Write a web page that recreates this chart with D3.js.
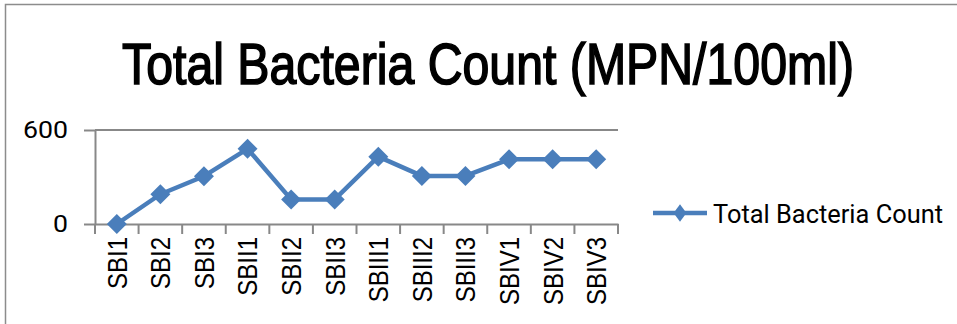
<!DOCTYPE html>
<html>
<head>
<meta charset="utf-8">
<script src="https://cdn.jsdelivr.net/npm/d3@7/dist/d3.min.js"></script>
<style>
  html, body { margin: 0; padding: 0; background: #fff; }
  svg { display: block; }
</style>
</head>
<body>
<script>
// Sampling stations along the x axis
const categories = ["SBI1", "SBI2", "SBI3", "SBII1", "SBII2", "SBII3",
                    "SBIII1", "SBIII2", "SBIII3", "SBIV1", "SBIV2", "SBIV3"];
// Total bacteria count per station (MPN/100ml)
const totalBacteria = [0, 190, 305, 480, 157, 157, 430, 307, 307, 413, 413, 413];
// Y axis tick labels
const yTicks = [0, 600];
const seriesName = "Total Bacteria Count";
const chartTitle = "Total Bacteria Count (MPN/100ml)";

const W = 957, H = 324;
const plot = { left: 95, right: 618, top: 130, bottom: 224 };
const blue = "#4A7EBB";
const axisGrey = "#888888";

const svg = d3.select("body").append("svg")
  .attr("width", W).attr("height", H);

// chart frame
svg.append("rect")
  .attr("x", 5.5).attr("y", 4.5)
  .attr("width", 1200).attr("height", 600)
  .attr("fill", "#fff")
  .attr("stroke", "#8c8c8c").attr("stroke-width", 1.5);

// title, horizontally condensed so it spans 732px
const titleG = svg.append("g");
const title = titleG.append("text")
  .attr("x", 0).attr("y", 0)
  .attr("text-anchor", "middle")
  .attr("font-family", "'Liberation Sans Narrow', 'Liberation Sans', Arial, sans-serif")
  .attr("font-size", 57)
  .attr("fill", "#000")
  .attr("stroke", "#000")
  .attr("stroke-width", 1.6)
  .text(chartTitle);
const titleScale = 732 / title.node().getComputedTextLength();
titleG.attr("transform", `translate(488,84) scale(${titleScale},1)`);

const x = d3.scaleBand().domain(categories).range([plot.left, plot.right]);
const y = d3.scaleLinear().domain([0, 600]).range([plot.bottom, plot.top]);

// horizontal gridline at the top tick
svg.append("g")
  .selectAll("line")
  .data(yTicks.filter(d => d > 0))
  .join("line")
  .attr("x1", plot.left).attr("x2", plot.right)
  .attr("y1", d => y(d)).attr("y2", d => y(d))
  .attr("stroke", axisGrey).attr("stroke-width", 2);

// y axis
const yAxis = svg.append("g")
  .attr("transform", `translate(${plot.left},0)`)
  .call(d3.axisLeft(y).tickValues(yTicks).tickSize(11).tickSizeOuter(0).tickPadding(16));
yAxis.select(".domain").attr("stroke", axisGrey).attr("stroke-width", 2);
yAxis.selectAll(".tick line").attr("stroke", axisGrey).attr("stroke-width", 2);
yAxis.selectAll(".tick text")
  .attr("font-family", "Roboto, 'Liberation Sans', sans-serif")
  .attr("font-size", 24)
  .attr("fill", "#000")
  .attr("textLength", d => String(d).length * 15)
  .attr("lengthAdjust", "spacingAndGlyphs");

// x axis line and category boundary ticks
const xAxis = svg.append("g")
  .attr("transform", `translate(0,${plot.bottom})`)
  .call(d3.axisBottom(x).tickSize(0).tickFormat(""));
xAxis.select(".domain").attr("stroke", axisGrey).attr("stroke-width", 2);
xAxis.selectAll(".tick").remove();

const boundaries = categories.map(c => x(c)).concat([x.range()[1]]);
svg.append("g")
  .selectAll("line")
  .data(boundaries)
  .join("line")
  .attr("x1", d => d).attr("x2", d => d)
  .attr("y1", plot.bottom).attr("y2", plot.bottom + 10)
  .attr("stroke", axisGrey).attr("stroke-width", 2);

// rotated category labels
svg.append("g")
  .selectAll("text")
  .data(categories)
  .join("text")
  .attr("transform", d => `translate(${x(d) + x.bandwidth() / 2},237) rotate(-90) scale(1,1.15)`)
  .attr("text-anchor", "end")
  .attr("dy", "0.36em")
  .attr("font-family", "'Liberation Sans', Arial, sans-serif")
  .attr("font-size", 24)
  .attr("fill", "#000")
  .text(d => d);

// series line
const pts = categories.map((c, i) => [x(c) + x.bandwidth() / 2, y(totalBacteria[i])]);
svg.append("path")
  .datum(pts)
  .attr("d", d3.line())
  .attr("fill", "none")
  .attr("stroke", blue)
  .attr("stroke-width", 4.5)
  .attr("stroke-linejoin", "round");

// diamond markers
const diamond = d3.symbol().type(d3.symbolSquare).size(200);
svg.append("g")
  .selectAll("path")
  .data(pts)
  .join("path")
  .attr("d", diamond)
  .attr("transform", d => `translate(${d[0]},${d[1]}) rotate(45)`)
  .attr("fill", blue);

// legend
const legend = svg.append("g");
legend.append("line")
  .attr("x1", 653).attr("x2", 707)
  .attr("y1", 213).attr("y2", 213)
  .attr("stroke", blue).attr("stroke-width", 4.5);
legend.append("path")
  .attr("d", d3.symbol().type(d3.symbolSquare).size(128))
  .attr("transform", "translate(680,213) scale(0.8,1.1) rotate(45)")
  .attr("fill", blue);
legend.append("text")
  .attr("x", 713).attr("y", 223)
  .attr("font-family", "Roboto, 'Liberation Sans', sans-serif")
  .attr("font-size", 25)
  .attr("fill", "#000")
  .attr("textLength", 230)
  .attr("lengthAdjust", "spacingAndGlyphs")
  .text(seriesName);
</script>
</body>
</html>
